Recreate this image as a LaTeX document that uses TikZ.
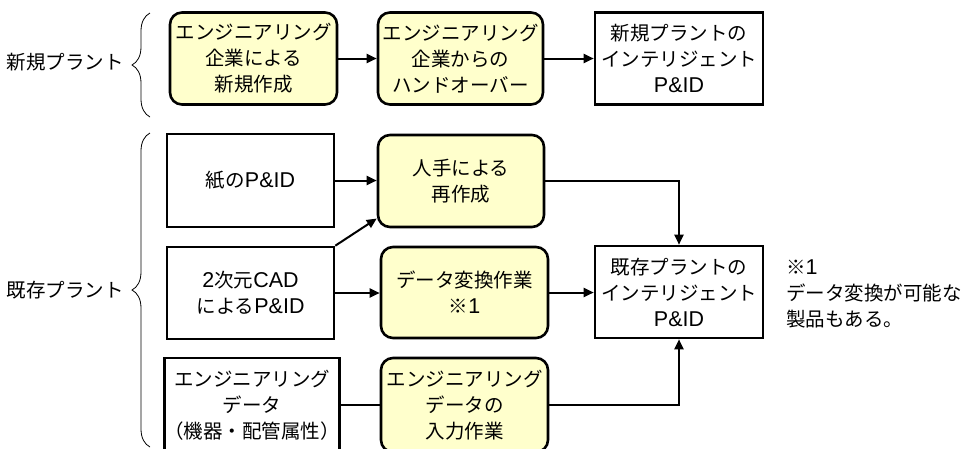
\documentclass[tikz,border=0pt]{standalone}
\usepackage{fontspec}
\setmainfont{Noto Sans CJK JP}
\newfontfamily\lat[Scale=1.1]{Liberation Sans}
\usetikzlibrary{arrows.meta,decorations.pathreplacing}
\definecolor{yfill}{HTML}{FFFFCC}
\begin{document}
\begin{tikzpicture}[x=1pt,y=-1pt,
  txt/.style={font=\fontsize{19.5}{26}\selectfont, inner sep=0pt},
  wbox/.style={txt, draw=black, line width=2.6pt, fill=white, align=center,
    minimum width=167pt, minimum height=92pt},
  ybox/.style={wbox, fill=yfill, rounded corners=12pt},
  arr/.style={line width=2pt, -{Triangle[length=10pt,width=9pt]}},
  plain/.style={line width=2pt},
  brc/.style={decorate, decoration={brace, amplitude=18pt}, line width=0.8pt}]
\useasboundingbox (0,0) rectangle (970,448);
% top row
\node[ybox] (n1) at (253.5,58.5) {エンジニアリング\\企業による\\新規作成};
\node[ybox, minimum width=165pt] (n2) at (460.5,58.5) {エンジニアリング\\企業からの\\ハンドオーバー};
\node[wbox, minimum width=168pt] (n3) at (679,58.5) {新規プラントの\\インテリジェント\\{\lat P\&ID}};
\draw[arr] (n1) -- (n2);
\draw[arr] (n2) -- (n3);
% bottom section
\node[wbox, minimum height=93pt] (paper) at (250.5,180.5) {紙の{\lat P\&ID}};
\node[wbox] (cad) at (250.5,293) {{\lat 2}次元{\lat CAD}\\による{\lat P\&ID}};
\node[wbox, minimum width=164pt, minimum height=94pt] (edata) at (252,405) {エンジニアリング\\データ\\（機器・配管属性）};
\node[ybox, minimum width=166pt] (manual) at (461,181) {人手による\\再作成};
\node[ybox, minimum height=91pt] (conv) at (464.5,292.5) {データ変換作業\\※{\lat 1}};
\node[ybox, minimum height=94pt] (input) at (464.5,405) {エンジニアリング\\データの\\入力作業};
\node[wbox, minimum width=168pt] (exist) at (679,292) {既存プラントの\\インテリジェント\\{\lat P\&ID}};
\draw[arr] (paper) -- (paper -| manual.west);
\draw[arr] (cad.north east) -- (manual.204);
\draw[arr] (cad) -- (cad -| conv.west);
\draw[plain] (edata) -- (edata -| input.west);
\draw[arr] (manual.east) -| (exist.north);
\draw[arr] (conv) -- (conv -| exist.west);
\draw[arr] (input.east) -| (exist.south);
% note
\node[txt, align=left, anchor=west] (note) at (786,294) {※{\lat 1}\\データ変換が可能な\\製品もある。};
% braces and labels
\draw[brc] (150,117) -- (150,13);
\draw[brc] (150,447) -- (150,133);
\node[txt, anchor=east] (lnew) at (124,62) {新規プラント};
\node[txt, anchor=east] (lold) at (124,290) {既存プラント};
\end{tikzpicture}
\end{document}
